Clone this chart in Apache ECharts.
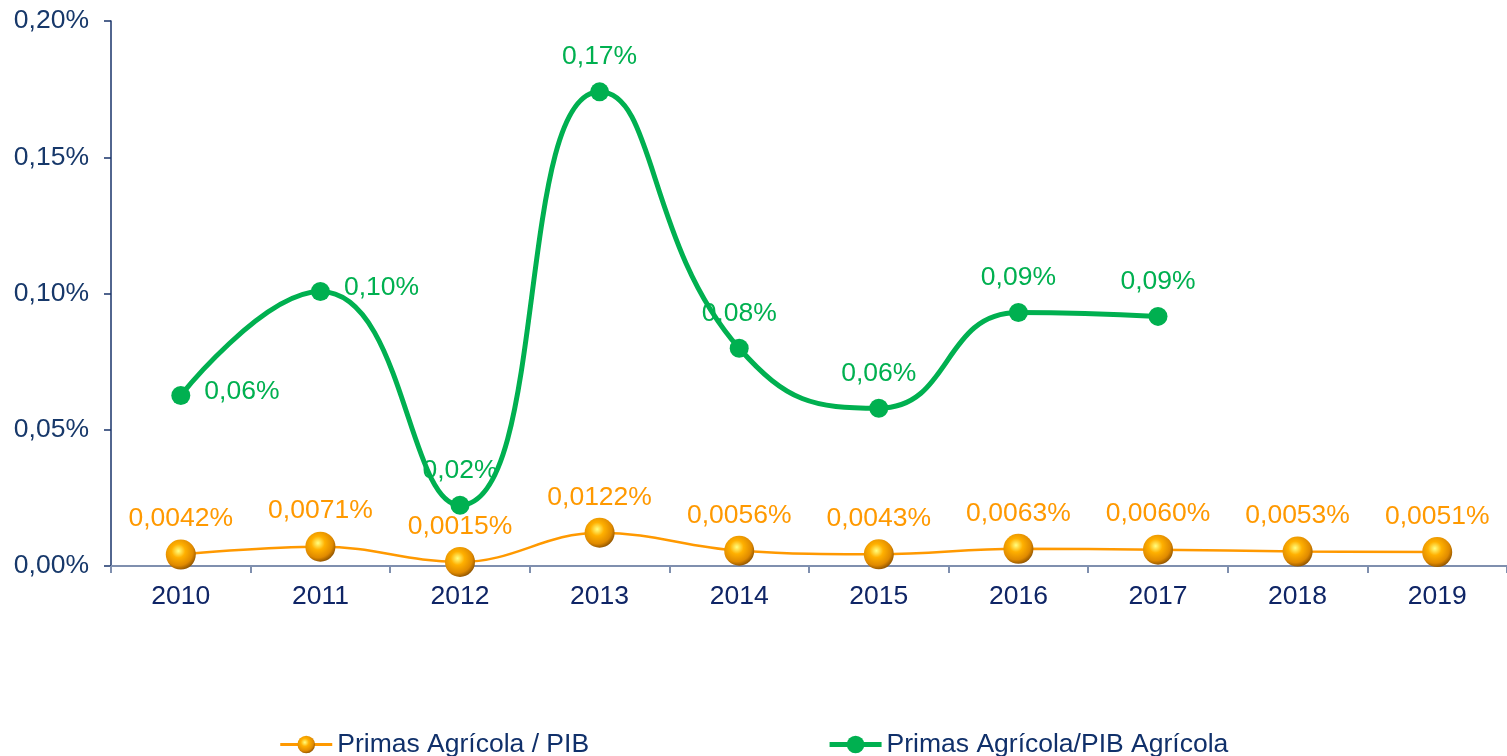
<!DOCTYPE html>
<html>
<head>
<meta charset="utf-8">
<script src="https://cdn.jsdelivr.net/npm/echarts@6/dist/echarts.min.js"></script>
<style>
  html, body { margin: 0; padding: 0; background: #fff; }
  #main { width: 1507px; height: 756px; }
</style>
</head>
<body>
<div id="main"></div>
<script>
// datos (en %)
var years = ['2010', '2011', '2012', '2013', '2014', '2015', '2016', '2017', '2018', '2019'];
var primasPib = [0.0042, 0.0071, 0.0015, 0.0122, 0.0056, 0.0043, 0.0063, 0.0060, 0.0053, 0.0051];
var primasPibAgricola = [0.0626, 0.1007, 0.0223, 0.1740, 0.0799, 0.0579, 0.0930, 0.0916, null, null];
var yTicks = [0, 0.05, 0.10, 0.15, 0.20];

var font = 'Liberation Sans, Arial, sans-serif';
var fs = 26.5;
function pct(v, d) { return v.toFixed(d).replace('.', ',') + '%'; }

var ball = {
  type: 'radial', x: 0.42, y: 0.38, r: 0.65,
  colorStops: [
    { offset: 0, color: '#ffff80' },
    { offset: 0.35, color: '#ffb000' },
    { offset: 0.75, color: '#e08a00' },
    { offset: 1, color: '#8a5000' }
  ]
};

// etiquetas verdes: 2010 y 2011 a la derecha, el resto arriba
var greenData = primasPibAgricola.map(function (v, i) {
  if (i < 2) {
    return { value: v, label: { position: 'right', distance: 14, offset: [0, -4] } };
  }
  return v;
});

var chart = echarts.init(document.getElementById('main'));
chart.setOption({
  animation: false,
  textStyle: { fontFamily: font },
  grid: { left: 111, top: 21, width: 1399, height: 545, containLabel: false },
  legend: {
    left: 'center',
    top: 726,
    itemGap: 238,
    itemWidth: 52,
    itemHeight: 22,
    textStyle: { fontSize: fs, color: '#10306a', fontFamily: font },
    data: [
      { name: 'Primas Agrícola / PIB', lineStyle: { width: 3 } },
      { name: 'Primas Agrícola/PIB Agrícola', lineStyle: { width: 5 } }
    ]
  },
  xAxis: {
    type: 'category',
    data: years,
    boundaryGap: true,
    axisLine: { lineStyle: { color: '#7f8fae', width: 2 } },
    axisTick: { show: true, length: 7, lineStyle: { color: '#7f8fae', width: 2 } },
    axisLabel: { color: '#0f2566', fontSize: fs, margin: 17, fontFamily: font }
  },
  yAxis: {
    type: 'value',
    min: yTicks[0],
    max: yTicks[yTicks.length - 1],
    interval: 0.05,
    splitLine: { show: false },
    axisLine: { show: true, lineStyle: { color: '#18336a', width: 1.5 } },
    axisTick: { show: true, length: 7, lineStyle: { color: '#18336a', width: 1.5 } },
    axisLabel: {
      color: '#17386a', fontSize: fs, margin: 22, fontFamily: font,
      formatter: function (v) { return pct(v, 2); }
    }
  },
  series: [
    {
      name: 'Primas Agrícola / PIB',
      type: 'line',
      data: primasPib,
      smooth: 0.4,
      symbol: 'circle',
      symbolSize: 30,
      z: 3,
      lineStyle: { color: '#ff9900', width: 2.5 },
      itemStyle: { color: ball },
      label: {
        show: true, position: 'top', distance: 7,
        color: '#ff9900', fontSize: fs, fontFamily: font,
        formatter: function (p) { return pct(p.value, 4); }
      }
    },
    {
      name: 'Primas Agrícola/PIB Agrícola',
      type: 'line',
      data: greenData,
      smooth: 0.5,
      symbol: 'circle',
      symbolSize: 19,
      z: 2,
      lineStyle: { color: '#00b050', width: 5 },
      itemStyle: { color: '#00b050' },
      label: {
        show: true, position: 'top', distance: 12,
        color: '#00b050', fontSize: fs, fontFamily: font,
        formatter: function (p) { return pct(p.value, 2); }
      }
    }
  ]
});
</script>
</body>
</html>
